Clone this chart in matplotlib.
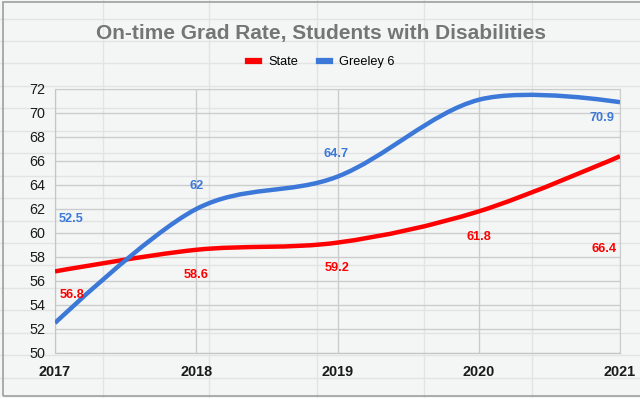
import numpy as np
import matplotlib.pyplot as plt
from matplotlib.path import Path
from matplotlib.patches import PathPatch, Rectangle
from matplotlib.lines import Line2D

plt.rcParams["font.family"] = ["Liberation Sans", "DejaVu Sans"]

years = [2017, 2018, 2019, 2020, 2021]
state = [56.8, 58.6, 59.2, 61.8, 66.4]
greeley = [52.5, 62.0, 64.7, 71.1, 70.9]

# data labels as they sit in the chart (x, y) -- google puts them in odd spots
state_labels = ["56.8", "58.6", "59.2", "61.8", "66.4"]
state_label_pos = [(2017.12, 54.8), (2018.0, 56.5), (2019.0, 57.1), (2020.0, 59.7), (2020.89, 58.7)]
greeley_labels = ["52.5", "62", "64.7", "70.9"]
greeley_label_pos = [(2017.11, 61.2), (2018.0, 63.9), (2018.99, 66.6), (2020.87, 69.6)]

y_ticks = list(range(50, 73, 2))

RED = "#ff0000"
BLUE = "#3c78d8"
BG = "#f4f6f6"


def smooth_path(x, y):
    """bezier path through the points, tangents like a catmull-rom spline,
    end points use themselves as control point"""
    x = np.asarray(x, float)
    y = np.asarray(y, float)
    n = len(x)
    m = np.zeros(n)
    for i in range(1, n - 1):
        m[i] = (y[i + 1] - y[i - 1]) / (x[i + 1] - x[i - 1])
    verts = [(x[0], y[0])]
    codes = [Path.MOVETO]
    for i in range(n - 1):
        h = x[i + 1] - x[i]
        if i == 0:
            c1 = (x[i], y[i])
        else:
            c1 = (x[i] + h / 3, y[i] + m[i] * h / 3)
        if i + 1 == n - 1:
            c2 = (x[i + 1], y[i + 1])
        else:
            c2 = (x[i + 1] - h / 3, y[i + 1] - m[i + 1] * h / 3)
        verts += [c1, c2, (x[i + 1], y[i + 1])]
        codes += [Path.CURVE4] * 3
    return Path(verts, codes)


fig = plt.figure(figsize=(6.4, 3.98), dpi=100, facecolor=BG)

# spreadsheet cells showing behind the chart
W, H = 640, 398
for cx in [103, 209, 317, 424, 532]:
    fig.add_artist(Line2D([cx / W, cx / W], [0, 1], color="#e2e4e4", lw=1, zorder=0))
for ry in np.arange(18.5, 390, 22.45):
    fig.add_artist(Line2D([0, 1], [1 - ry / H, 1 - ry / H], color="#e2e4e4", lw=1, zorder=0))
fig.add_artist(Rectangle((3 / W, 1 - 396 / H), 1, 394 / H, fill=False,
                         edgecolor="#9e9e9e", lw=1.2, zorder=0))

ax = fig.add_axes([55 / W, 1 - 353 / H, 565 / W, 264 / H])
ax.patch.set_alpha(0)

for series, color, label in [(state, RED, "State"), (greeley, BLUE, "Greeley 6")]:
    ax.add_patch(PathPatch(smooth_path(years, series), facecolor="none",
                           edgecolor=color, lw=3.2, capstyle="butt", zorder=3))
    ax.plot([], [], color=color, lw=4.5, label=label)

for txt, (lx, ly) in zip(state_labels, state_label_pos):
    ax.text(lx, ly, txt, color=RED, fontsize=9.2, fontweight="bold", ha="center", va="center", zorder=4)
for txt, (lx, ly) in zip(greeley_labels, greeley_label_pos):
    ax.text(lx, ly, txt, color=BLUE, fontsize=9.2, fontweight="bold", ha="center", va="center", zorder=4)

ax.set_xlim(2017, 2021)
ax.set_ylim(50, 72)
ax.set_xticks(years)
ax.set_xticklabels([str(y) for y in years], fontweight="bold", fontsize=10.4, color="#1a1a1a")
ax.set_yticks(y_ticks)
ax.set_yticklabels([str(t) for t in y_ticks], fontsize=10.4, color="#1a1a1a")
ax.tick_params(length=0, pad=7)
ax.tick_params(axis="x", pad=9)
ax.grid(True, color="#cccccc", lw=1)
ax.set_axisbelow(True)
for side in ["top", "right"]:
    ax.spines[side].set_color("#cccccc")
for side in ["left", "bottom"]:
    ax.spines[side].set_color("#c4c4c4")

fig.text(0.502, 1 - 39 / H, "On-time Grad Rate, Students with Disabilities",
         ha="center", va="baseline", fontsize=15, fontweight="bold", color="#757575")
fig.legend(loc="center", bbox_to_anchor=(0.502, 1 - 62 / H), ncol=2, frameon=False,
           fontsize=9.2, handlelength=0.9, handletextpad=0.7, columnspacing=1.6)

fig.savefig("out.png", dpi=100, facecolor=BG)
